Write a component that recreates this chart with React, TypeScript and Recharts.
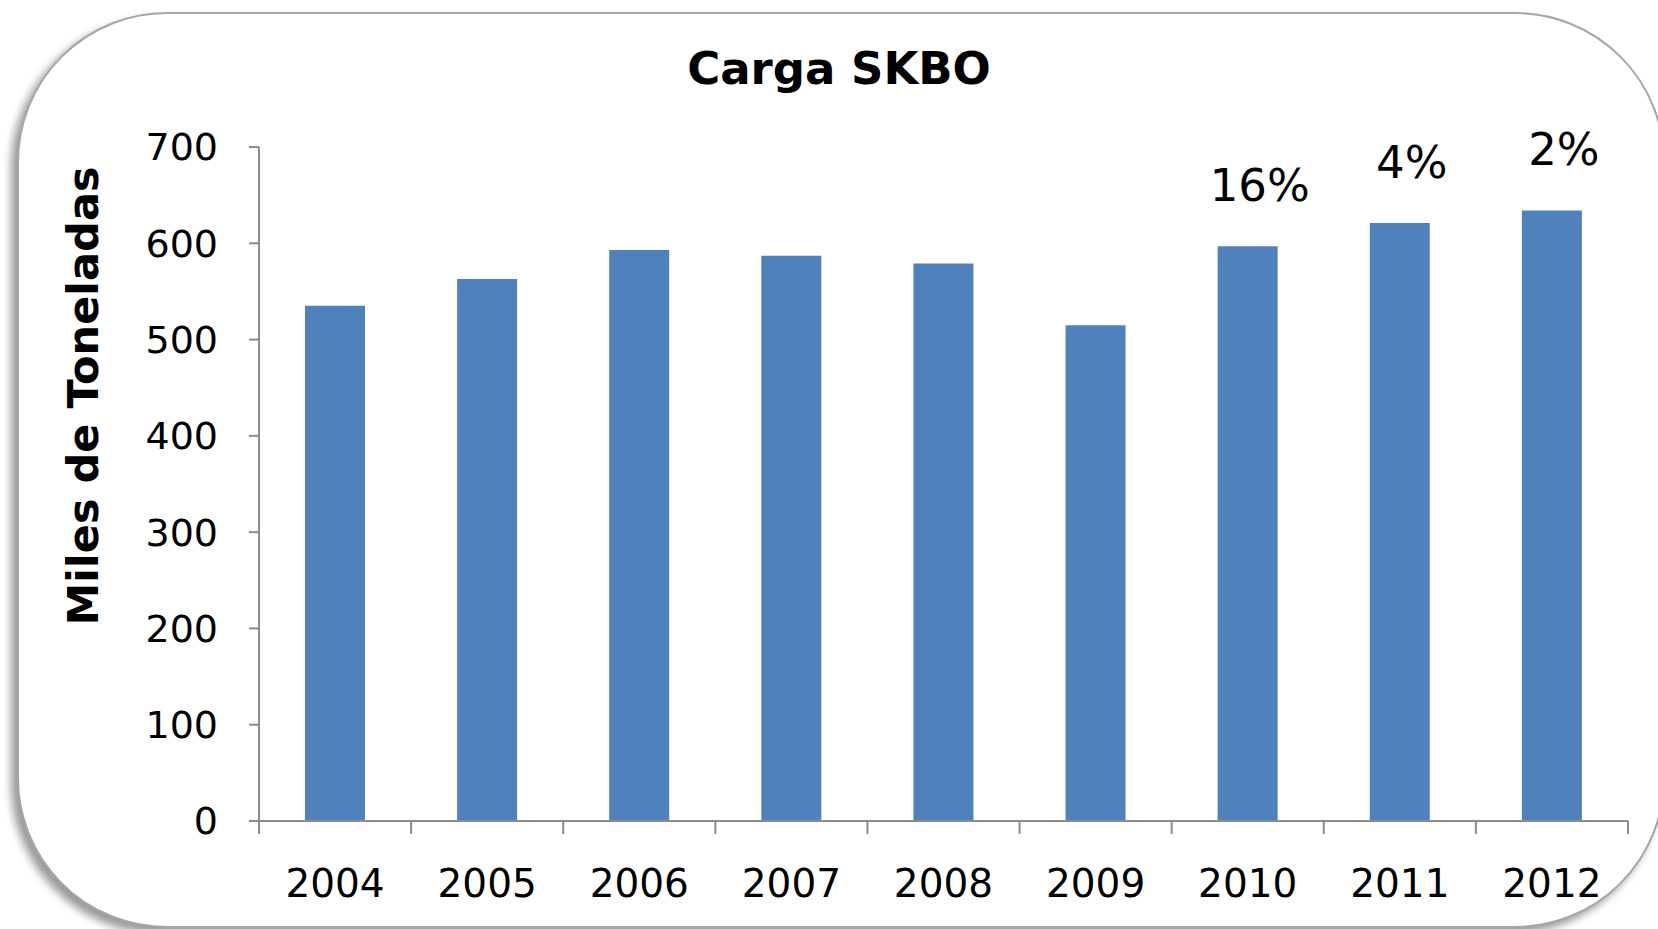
import { BarChart, Bar, XAxis, YAxis, LabelList, Label } from 'recharts';

// Carga SKBO (miles de toneladas)
const years = ['2004', '2005', '2006', '2007', '2008', '2009', '2010', '2011', '2012'];
const carga = [535, 563, 593, 587, 579, 515, 597, 621, 634];
const crecimiento = ['', '', '', '', '', '', '16%', '4%', '2%'];
const yTicks = [0, 100, 200, 300, 400, 500, 600, 700];

const data = years.map((year, i) => ({ year, carga: carga[i], pct: crecimiento[i] }));

const W = 1658;
const H = 929;
const MARGIN = { top: 147, right: 30, bottom: 48, left: 59 };
const Y_AXIS_W = 200;
const X_AXIS_H = 60;
const PLOT_W = W - MARGIN.left - Y_AXIS_W - MARGIN.right;
const FONT = 'Verdana, "DejaVu Sans", sans-serif';
const AXIS_COLOR = '#8c8c8c';

// tick de categoria con marca entre categorias (estilo Excel)
const XTick = (props: any) => {
  const { x, y, payload, index } = props;
  const band = PLOT_W / years.length;
  return (
    <g>
      <line x1={x - band / 2} x2={x - band / 2} y1={y} y2={y + 13} stroke={AXIS_COLOR} strokeWidth={2} />
      {index === years.length - 1 && (
        <line x1={x + band / 2} x2={x + band / 2} y1={y} y2={y + 13} stroke={AXIS_COLOR} strokeWidth={2} />
      )}
      <text x={x} y={y + 62} textAnchor="middle" dominantBaseline="central" fontSize={39} fontFamily={FONT} fill="#000">
        {payload.value}
      </text>
    </g>
  );
};

const PctLabel = (p: any) => {
  if (!p.value) return null;
  return (
    <text
      x={p.x + p.width / 2 + 12}
      y={p.y - 61}
      textAnchor="middle"
      dominantBaseline="central"
      fontSize={45}
      fontFamily={FONT}
      fill="#000"
    >
      {p.value}
    </text>
  );
};

export default function App() {
  return (
    <div style={{ position: 'absolute', left: 0, top: 0, width: W, height: H, overflow: 'hidden', background: '#fff' }}>
      {/* marco redondeado */}
      <div
        style={{
          position: 'absolute',
          left: 17,
          top: 12,
          width: 1648,
          height: 916,
          borderRadius: 150,
          border: '2px solid #a6a6a6',
          boxShadow: '-6px 6px 8px rgba(0,0,0,0.4)',
          background: '#fff',
          boxSizing: 'border-box',
        }}
      />
      <div
        style={{
          position: 'absolute',
          left: 839,
          top: 68,
          transform: 'translate(-50%, -50%)',
          whiteSpace: 'nowrap',
          fontFamily: FONT,
          fontWeight: 'bold',
          fontSize: 45,
          color: '#000',
        }}
      >
        Carga SKBO
      </div>
      <div style={{ position: 'absolute', left: 0, top: 0 }}>
        <BarChart width={W} height={H} data={data} margin={MARGIN}>
          <XAxis
            dataKey="year"
            height={X_AXIS_H}
            tick={<XTick />}
            tickLine={false}
            tickSize={0}
            tickMargin={0}
            interval={0}
            axisLine={{ stroke: AXIS_COLOR, strokeWidth: 2 }}
          />
          <YAxis
            width={Y_AXIS_W}
            domain={[0, 700]}
            ticks={yTicks}
            interval={0}
            tickSize={10}
            tickMargin={31}
            tick={{ fontSize: 38, fontFamily: FONT, fill: '#000' }}
            tickLine={{ stroke: AXIS_COLOR, strokeWidth: 2 }}
            axisLine={{ stroke: AXIS_COLOR, strokeWidth: 2 }}
          >
            <Label
              content={(p: any) => {
                const vb = p.viewBox;
                const cx = vb.x + 24;
                const cy = vb.y + 249;
                return (
                  <text
                    x={cx}
                    y={cy}
                    transform={`rotate(-90, ${cx}, ${cy})`}
                    textAnchor="middle"
                    dominantBaseline="central"
                    fontSize={43}
                    fontWeight="bold"
                    fontFamily={FONT}
                    fill="#000"
                  >
                    Miles de Toneladas
                  </text>
                );
              }}
            />
          </YAxis>
          <Bar dataKey="carga" fill="#4F81BD" barSize={60} isAnimationActive={false}>
            <LabelList dataKey="pct" content={<PctLabel />} />
          </Bar>
        </BarChart>
      </div>
    </div>
  );
}
